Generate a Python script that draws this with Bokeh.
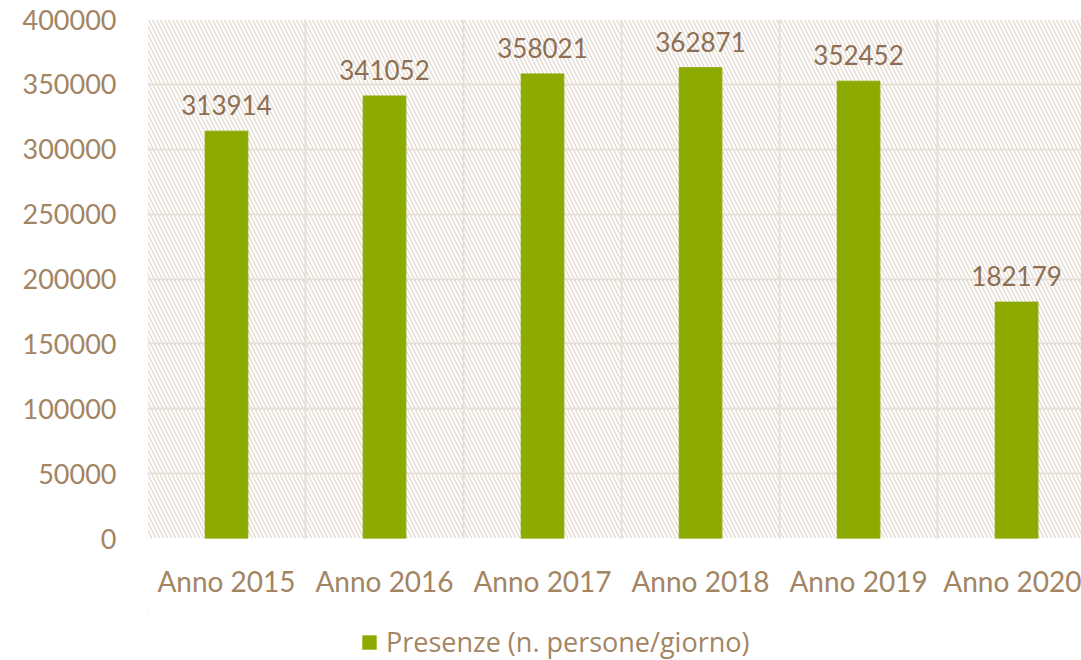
from bokeh.plotting import figure
from bokeh.layouts import column
from bokeh.models import (ColumnDataSource, FixedTicker, BoxAnnotation, LabelSet,
                          Legend, LegendItem, Range1d)
from bokeh.core.properties import value
from bokeh.embed import file_html
from bokeh.resources import INLINE
import numpy as np

categories = ["Anno 2015", "Anno 2016", "Anno 2017", "Anno 2018", "Anno 2019", "Anno 2020"]
presenze = [313914, 341052, 358021, 362871, 352452, 182179]
y_ticks = [0, 50000, 100000, 150000, 200000, 250000, 300000, 350000, 400000]
series_name = "Presenze (n. persone/giorno)"

BAR = "#8CAA00"
TICK_COL = "#A38463"
LABEL_COL = "#8E6F53"
GRID = "#E7DFD6"

pos = np.arange(len(categories)) + 0.5
src = ColumnDataSource(dict(x=pos, y=presenze, lab=[str(v) for v in presenze]))

p = figure(width=1081, height=610, output_backend="svg", toolbar_location=None,
           x_range=Range1d(0, 5.911), y_range=Range1d(0, 400000),
           min_border_left=147, min_border_right=0, min_border_top=19, min_border_bottom=72)
p.outline_line_color = None
p.background_fill_color = "white"

# hatched plot area
p.add_layout(BoxAnnotation(fill_color="white", fill_alpha=1.0, line_color=None,
                           hatch_pattern="\\", hatch_color="#E6DED5", hatch_scale=8,
                           hatch_weight=1.5, level="image"))

r = p.vbar(x="x", top="y", width=0.27, source=src, color=BAR)

p.add_layout(LabelSet(x="x", y="y", text="lab", source=src, text_align="center",
                      text_baseline="bottom", y_offset=16, text_font=value("Lato"),
                      text_font_size="26px", text_color=LABEL_COL))

# axes
p.xaxis.ticker = FixedTicker(ticks=list(pos))
p.xaxis.major_label_overrides = {float(x): c for x, c in zip(pos, categories)}
p.yaxis.ticker = FixedTicker(ticks=y_ticks)
p.yaxis.formatter.use_scientific = False
for ax in (p.xaxis, p.yaxis):
    ax.axis_line_color = None
    ax.major_tick_line_color = None
    ax.minor_tick_line_color = None
    ax.major_tick_out = 0
    ax.major_tick_in = 0
    ax.minor_tick_out = 0
    ax.major_label_text_color = TICK_COL
    ax.major_label_text_font = "Lato"
    ax.major_label_text_font_size = "27px"
p.yaxis.major_label_standoff = 31
p.xaxis.major_label_text_font_size = "28px"
p.xaxis.major_label_standoff = 25

# grids
p.xgrid.ticker = FixedTicker(ticks=list(range(0, 7)))
p.xgrid.grid_line_color = GRID
p.xgrid.grid_line_width = 2
p.ygrid.grid_line_color = GRID
p.ygrid.grid_line_width = 2

# legend strip (its frame is aligned with the chart frame by the column layout)
pl = figure(width=1081, height=50, output_backend="svg", toolbar_location=None,
            x_range=Range1d(100, 101), y_range=Range1d(-2, -1),
            min_border_left=147, min_border_right=0, min_border_top=0, min_border_bottom=0)
pl.axis.visible = False
pl.grid.visible = False
pl.outline_line_color = None
# same series placed outside the strip's visible ranges: only its legend swatch shows
lr = pl.vbar(x="x", top="y", width=0.1, source=src, fill_color=BAR, line_color=None)
legend = Legend(items=[LegendItem(label=series_name, renderers=[lr])],
                location=(213, 0), orientation="horizontal",
                label_text_font="Open Sans", label_text_font_size="27px",
                label_text_color=TICK_COL, glyph_width=18, glyph_height=18,
                label_standoff=8, border_line_color=None,
                background_fill_alpha=0, margin=0, padding=2)
pl.add_layout(legend, "center")

open("out.html", "w").write(file_html(column(p, pl), INLINE))
